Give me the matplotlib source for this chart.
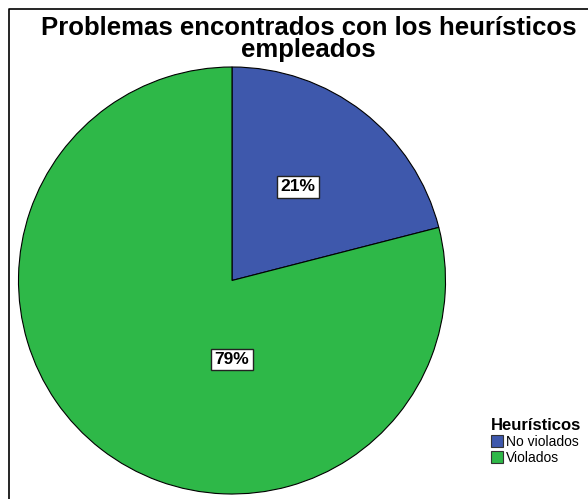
import matplotlib
matplotlib.use("Agg")
import matplotlib.pyplot as plt
from matplotlib.lines import Line2D
from matplotlib.patches import Patch

plt.rcParams['font.family'] = ['Liberation Sans', 'DejaVu Sans']

categories = ["No violados", "Violados"]
values = [21, 79]
colors = ["#3E58AC", "#2EB848"]
title_lines = ["Problemas encontrados con los heurísticos", "empleados"]
legend_title = "Heurísticos"

W, H = 588, 499
fig = plt.figure(figsize=(W / 100, H / 100), dpi=100)

cx, cy, r = 232, 280.5, 213.5
ax = fig.add_axes([(cx - r) / W, (H - cy - r) / H, 2 * r / W, 2 * r / H])
wedges, _ = ax.pie(values, colors=colors, startangle=90, counterclock=False,
                   wedgeprops=dict(edgecolor="black", linewidth=0.8))
ax.set_xlim(-1, 1)
ax.set_ylim(-1, 1)
ax.axis("off")

label_pos = [(0.31, 0.44), (0.0, -0.37)]
for v, (x, y) in zip(values, label_pos):
    ax.text(x, y, f"{v}%", ha="center", va="center", fontsize=12.5, fontweight="bold",
            bbox=dict(boxstyle="square,pad=0.2", fc="white", ec="#222222", lw=1.0))

for line, base in zip(title_lines, [35, 57]):
    fig.text(0.525, 1 - base / H, line, ha="center", va="baseline", fontsize=18.5,
             fontweight="bold")

# frame
fx, fy = 8.5 / W, 1 - 8.5 / H
fig.add_artist(Line2D([fx, fx, 1.1], [-0.1, fy, fy], transform=fig.transFigure,
                      color="black", linewidth=1.2))

handles = [Patch(facecolor=c, edgecolor="#333333", linewidth=0.8) for c in colors]
leg = fig.legend(handles, categories, title=legend_title, loc="upper left",
                 bbox_to_anchor=(481 / W, 1 - 408 / H), frameon=False,
                 fontsize=10, title_fontproperties=dict(weight="bold", size=12),
                 handlelength=0.9, handleheight=1.0, handletextpad=0.2,
                 labelspacing=0.15, borderpad=0.2)
leg._legend_box.align = "left"

fig.savefig("out.png", dpi=100)
